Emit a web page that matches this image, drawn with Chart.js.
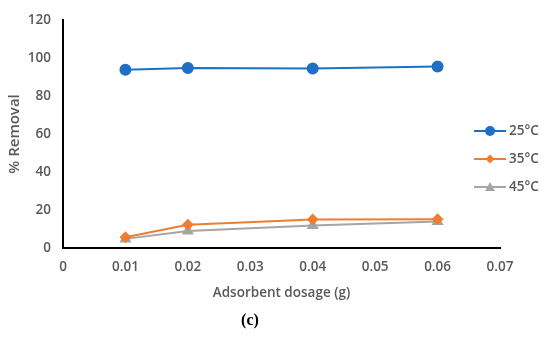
<!DOCTYPE html>
<html>
<head>
<meta charset="utf-8">
<script src="https://cdn.jsdelivr.net/npm/chart.js@4"></script>
<style>
  html, body { margin: 0; padding: 0; background: #fff; }
  #wrap { width: 550px; height: 340px; }
</style>
</head>
<body>
<div id="wrap"><canvas id="chart-c"></canvas></div>
<script>
const dosage = [0.01, 0.02, 0.04, 0.06];
const removal25 = [93.8, 94.7, 94.5, 95.6];
const removal35 = [5.6, 12.2, 14.9, 15.1];
const removal45 = [4.7, 8.9, 11.8, 13.8];
const seriesNames = ['25°C', '35°C', '45°C'];

const textGray = '#595959';
const tickFont = { family: 'Open Sans', size: 13.5, weight: '600' };

function pts(vals) {
  return dosage.map((x, i) => ({ x: x, y: vals[i] }));
}

// legend drawn by hand: line with marker, like the original
const sideLegend = {
  id: 'sideLegend',
  afterDraw(chart) {
    const c = chart.ctx;
    const ys = [131, 159, 187];
    chart.data.datasets.forEach((ds, i) => {
      const y = ys[i];
      c.save();
      c.strokeStyle = ds.borderColor;
      c.lineWidth = 2;
      c.beginPath();
      c.moveTo(474, y);
      c.lineTo(506, y);
      c.stroke();
      c.fillStyle = ds.pointBackgroundColor;
      const r = ds.pointRadius;
      const cx = 490;
      c.beginPath();
      if (ds.pointStyle === 'circle') {
        c.arc(cx, y, r, 0, Math.PI * 2);
      } else if (ds.pointStyle === 'rectRot') {
        c.moveTo(cx, y - r); c.lineTo(cx + r, y); c.lineTo(cx, y + r); c.lineTo(cx - r, y);
        c.closePath();
      } else {
        c.moveTo(cx, y - r); c.lineTo(cx + r, y + r * 0.8); c.lineTo(cx - r, y + r * 0.8);
        c.closePath();
      }
      c.fill();
      c.fillStyle = textGray;
      c.font = '600 13.5px "Open Sans"';
      c.textBaseline = 'middle';
      c.fillText(ds.label, 509, y);
      c.restore();
    });
  }
};

const ctx = document.getElementById('chart-c');

new Chart(ctx, {
  type: 'line',
  data: {
    datasets: [{
      label: seriesNames[0],
      data: pts(removal25),
      borderColor: '#1f6fc5',
      backgroundColor: '#1f6fc5',
      pointBackgroundColor: '#1f6fc5',
      pointBorderColor: '#1f6fc5',
      pointStyle: 'circle',
      pointRadius: 5,
      borderWidth: 2
    }, {
      label: seriesNames[1],
      data: pts(removal35),
      borderColor: '#ed7d31',
      backgroundColor: '#ed7d31',
      pointBackgroundColor: '#ed7d31',
      pointBorderColor: '#ed7d31',
      pointStyle: 'rectRot',
      pointRadius: 4.5,
      borderWidth: 2
    }, {
      label: seriesNames[2],
      data: pts(removal45),
      borderColor: '#a5a5a5',
      backgroundColor: '#a5a5a5',
      pointBackgroundColor: '#a5a5a5',
      pointBorderColor: '#a5a5a5',
      pointStyle: 'triangle',
      pointRadius: 5,
      borderWidth: 2
    }]
  },
  options: {
    responsive: true,
    maintainAspectRatio: false,
    animation: false,
    layout: { padding: { top: 15, right: 50, left: 0, bottom: 0 } },
    plugins: {
      legend: { display: false },
      tooltip: { enabled: false },
      title: {
        display: true,
        position: 'bottom',
        text: '(c)',
        color: '#000',
        font: { family: 'Liberation Serif', size: 16, weight: 'bold' },
        padding: { top: 6, bottom: 10 }
      }
    },
    scales: {
      x: {
        type: 'linear',
        min: 0,
        max: 0.07,
        ticks: {
          stepSize: 0.01,
          color: textGray,
          font: tickFont,
          padding: 11,
          callback: v => v === 0 ? '0' : v.toFixed(2)
        },
        grid: { display: false, drawTicks: false },
        border: { color: '#000', width: 2 },
        title: {
          display: true,
          text: 'Adsorbent dosage (g)',
          color: textGray,
          font: { family: 'Open Sans', size: 13.5, weight: '600' },
          padding: { top: 0, bottom: 4 }
        },
        afterFit: s => { s.height = 57; }
      },
      y: {
        min: 0,
        max: 120,
        ticks: {
          stepSize: 20,
          color: textGray,
          font: tickFont,
          padding: 12
        },
        grid: { display: false, drawTicks: false },
        border: { color: '#000', width: 2 },
        title: {
          display: true,
          text: '% Removal',
          color: textGray,
          font: { family: 'Open Sans', size: 15, weight: '600' },
          padding: { top: 6, bottom: 0 }
        },
        afterFit: s => { s.width = 63; }
      }
    }
  },
  plugins: [sideLegend]
});
</script>
</body>
</html>
